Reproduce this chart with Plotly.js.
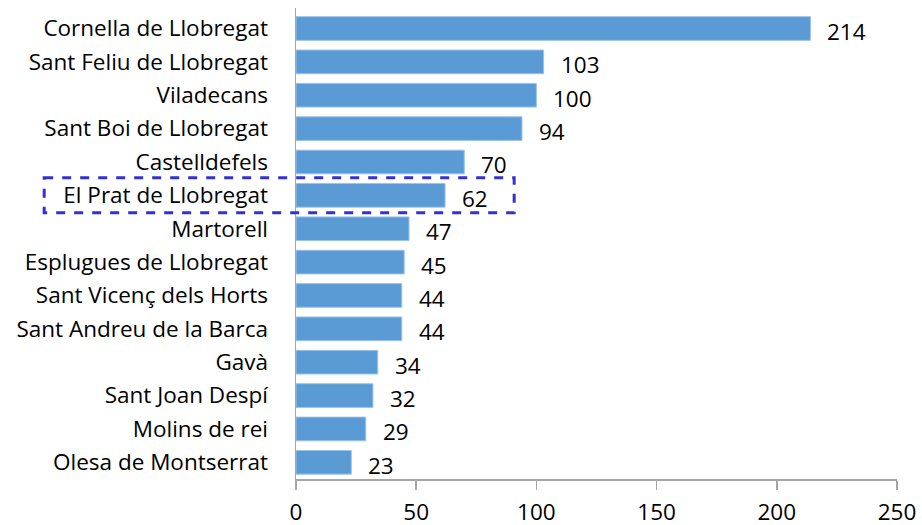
<!DOCTYPE html>
<html>
<head>
<meta charset="utf-8">
<script src="https://cdn.plot.ly/plotly-3.0.1.min.js"></script>
<style>html,body{margin:0;padding:0;background:#fff;}#chart{width:922px;height:525px;}</style>
</head>
<body>
<div id="chart"></div>
<script>
const municipis = [
  "Cornella de Llobregat",
  "Sant Feliu de Llobregat",
  "Viladecans",
  "Sant Boi de Llobregat",
  "Castelldefels",
  "El Prat de Llobregat",
  "Martorell",
  "Esplugues de Llobregat",
  "Sant Vicenç dels Horts",
  "Sant Andreu de la Barca",
  "Gavà",
  "Sant Joan Despí",
  "Molins de rei",
  "Olesa de Montserrat"
];
const valors = [214, 103, 100, 94, 70, 62, 47, 45, 44, 44, 34, 32, 29, 23];
const xTicks = [0, 50, 100, 150, 200, 250];

const FONT = "'Open Sans', Lato, sans-serif";
const FS = 22.5;

const trace = {
  type: "bar",
  orientation: "h",
  y: municipis,
  x: valors,
  marker: {color: "#5B9BD5", line: {color: "#9DC3E6", width: 1}},
  hoverinfo: "x+y"
};

const annotations = valors.map((v, i) => ({
  x: v, y: municipis[i], xref: "x", yref: "y",
  text: String(v), showarrow: false,
  xanchor: "left", yanchor: "middle",
  xshift: 15, yshift: -3,
  font: {family: FONT, size: FS, color: "#000000"}
}));

const layout = {
  width: 922, height: 525,
  margin: {l: 296, r: 25, t: 8, b: 46},
  paper_bgcolor: "#ffffff",
  plot_bgcolor: "#ffffff",
  showlegend: false,
  bargap: 0.29,
  font: {family: FONT, size: FS, color: "#000000"},
  xaxis: {
    range: [0, 250],
    tickvals: xTicks,
    ticktext: xTicks.map(String),
    showgrid: false,
    zeroline: false,
    showline: true,
    linecolor: "#A6A6A6",
    linewidth: 1.5,
    ticks: "outside",
    ticklen: 9,
    tickcolor: "#A6A6A6",
    tickwidth: 1.5,
    ticklabelstandoff: 3,
    tickfont: {family: FONT, size: FS, color: "#000000"},
    fixedrange: true
  },
  yaxis: {
    type: "category",
    autorange: "reversed",
    showgrid: false,
    zeroline: false,
    showline: true,
    linecolor: "#A6A6A6",
    linewidth: 1.5,
    ticks: "",
    ticklabelstandoff: 22,
    tickfont: {family: FONT, size: FS, color: "#000000"},
    fixedrange: true
  },
  annotations: annotations,
  shapes: [{
    type: "rect",
    xref: "paper", yref: "y",
    x0: -0.419, x1: 0.363,
    y0: 4.47, y1: 5.52,
    line: {color: "#3333CC", width: 3, dash: "dash"},
    fillcolor: "rgba(0,0,0,0)"
  }]
};

Plotly.newPlot("chart", [trace], layout, {displayModeBar: false, staticPlot: true});
</script>
</body>
</html>
